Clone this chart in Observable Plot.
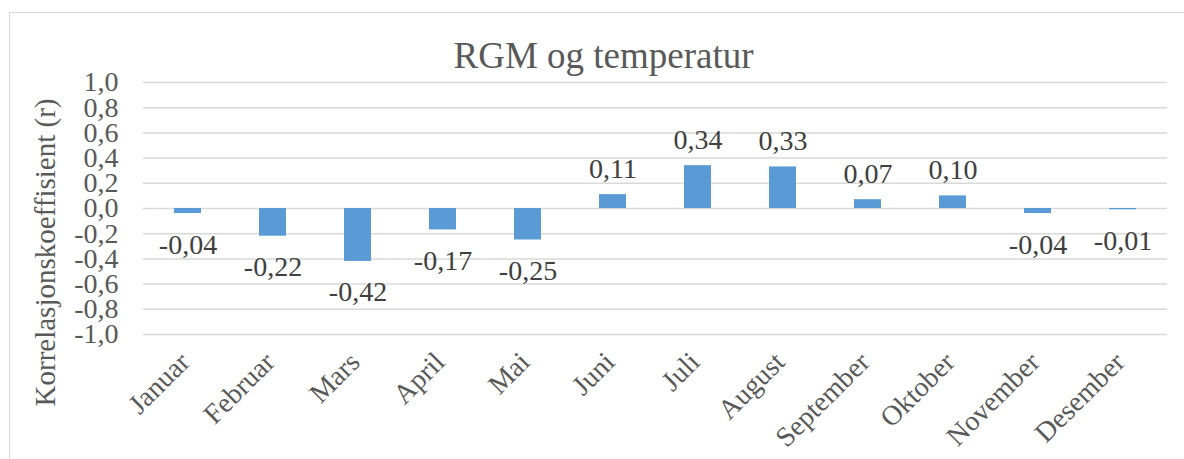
<!DOCTYPE html>
<html>
<head>
<meta charset="utf-8">
<script src="https://cdn.jsdelivr.net/npm/d3@7"></script>
<script src="https://cdn.jsdelivr.net/npm/@observablehq/plot@0.6"></script>
<style>
  html, body { margin: 0; padding: 0; background: #fff; }
  #wrap { position: relative; width: 1184px; height: 459px; overflow: hidden; }
  #border { position: absolute; left: 9px; top: 12px; width: 1200px; height: 480px; border: 1.5px solid #d9d9d9; box-sizing: border-box; }
  #chart { position: absolute; left: 0; top: 0; }
  #chart svg, #chart svg text { font-family: "Liberation Serif", "Times New Roman", serif !important; }
</style>
</head>
<body>
<div id="wrap"><div id="border"></div><div id="chart"></div></div>
<script>
const months = ["Januar","Februar","Mars","April","Mai","Juni","Juli","August","September","Oktober","November","Desember"];
const values = [-0.04,-0.22,-0.42,-0.17,-0.25,0.11,0.34,0.33,0.07,0.10,-0.04,-0.01];
const yTicks = [-1.0,-0.8,-0.6,-0.4,-0.2,0.0,0.2,0.4,0.6,0.8,1.0];
const title = "RGM og temperatur";
const yLabel = "Korrelasjonskoeffisient (r)";

const data = months.map((m, i) => ({month: m, value: values[i]}));
const fmt = v => v.toFixed(1).replace(".", ",");
const fmt2 = v => v.toFixed(2).replace(".", ",");
const font = "Liberation Serif";

const chart = Plot.plot({
  width: 1184,
  height: 459,
  marginLeft: 143,
  marginRight: 17,
  marginTop: 82,
  marginBottom: 125,
  style: {background: "transparent", overflow: "visible"},
  x: {domain: months, paddingInner: 0.68, paddingOuter: 0.34, axis: null},
  y: {domain: [-1, 1], axis: null},
  marks: [
    Plot.ruleY(yTicks, {stroke: "#d9d9d9", strokeWidth: 1.5}),
    Plot.barY(data, {x: "month", y: "value", fill: "#5b9bd5"}),
    Plot.text(yTicks, {y: d => d, frameAnchor: "left", text: fmt, textAnchor: "end", dx: -25, fontSize: 28, fontFamily: font, fill: "#595959", lineAnchor: "middle"}),
    Plot.text(data.filter(d => d.value >= 0), {x: "month", y: "value", text: d => fmt2(d.value), dy: -26, fontSize: 28, fontFamily: font, fill: "#404040", lineAnchor: "middle"}),
    Plot.text(data.filter(d => d.value < 0), {x: "month", y: "value", text: d => fmt2(d.value), dy: 31, fontSize: 28, fontFamily: font, fill: "#404040", lineAnchor: "middle"}),
    Plot.text(months, {x: d => d, frameAnchor: "bottom", text: d => d, rotate: -45, textAnchor: "end", lineAnchor: "middle", dx: -3, dy: 23, fontSize: 28, fontFamily: font, fill: "#595959"}),
    Plot.text([yLabel], {frameAnchor: "left", text: d => d, rotate: -90, textAnchor: "middle", dx: -98, dy: 44, fontSize: 29, fontFamily: font, fill: "#595959", lineAnchor: "middle"}),
    Plot.text([title], {frameAnchor: "top", text: d => d, textAnchor: "middle", dx: -52, dy: -26, fontSize: 37, fontFamily: font, fill: "#595959", lineAnchor: "middle"})
  ]
});
document.getElementById("chart").appendChild(chart);
</script>
</body>
</html>
